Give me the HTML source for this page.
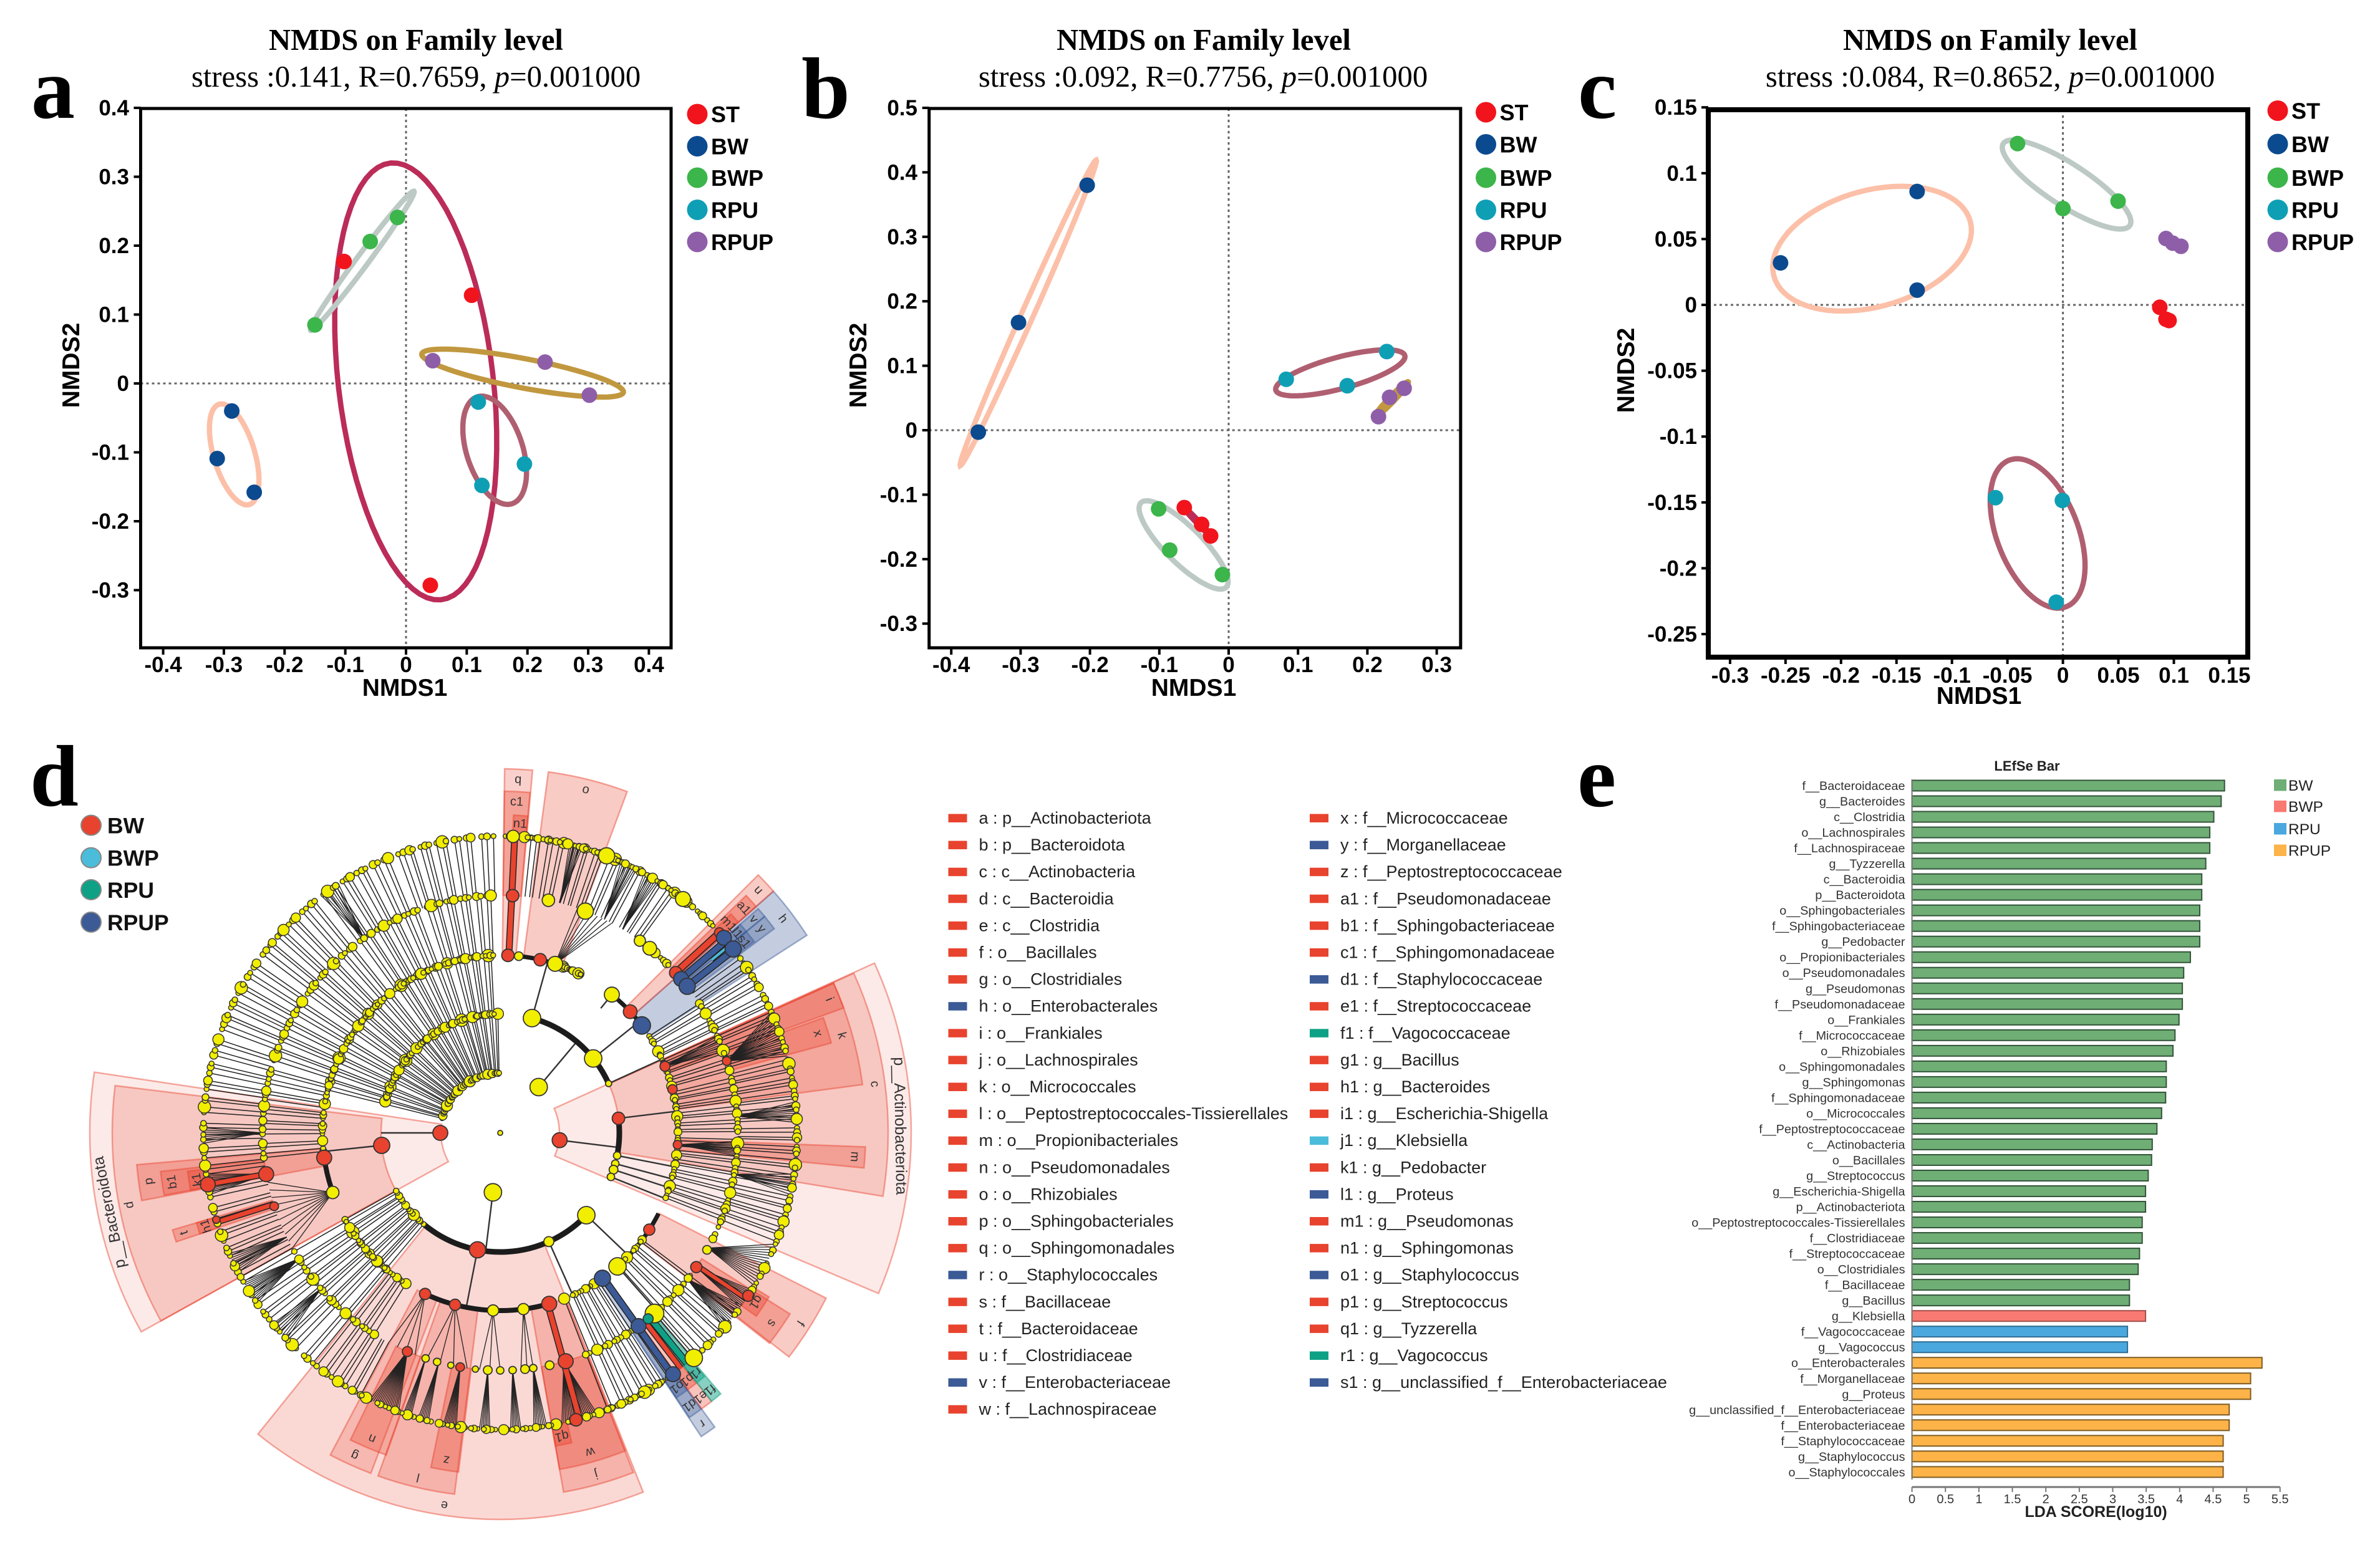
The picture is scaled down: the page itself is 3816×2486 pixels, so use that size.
<!DOCTYPE html>
<html lang="en">
<head>
<meta charset="utf-8">
<title>NMDS, cladogram and LEfSe figure</title>
<style>
html,body{margin:0;padding:0;background:#fff;}
svg{display:block;position:absolute;left:0;top:0;}
text{font-family:"Liberation Sans",sans-serif;}
.serif{font-family:"Liberation Serif",serif;}
</style>
</head>
<body>
<svg id="fig" xmlns="http://www.w3.org/2000/svg" width="3816" height="2486" viewBox="0 0 3816 2486">
<rect x="0" y="0" width="3816" height="2486" fill="#ffffff"/>
<text class="serif" x="50" y="189" font-size="140" font-weight="700">a</text>
<text class="serif" x="1285" y="189" font-size="140" font-weight="700">b</text>
<text class="serif" x="2530" y="189" font-size="140" font-weight="700">c</text>
<text class="serif" x="48" y="1292" font-size="140" font-weight="700">d</text>
<text class="serif" x="2529" y="1293" font-size="140" font-weight="700">e</text>

<text class="serif" x="667" y="80" font-size="48.7" font-weight="700" text-anchor="middle">NMDS on Family level</text>
<text class="serif" x="667" y="139" font-size="48.7" text-anchor="middle">stress :0.141, R=0.7659, <tspan font-style="italic">p</tspan>=0.001000</text>
<text class="serif" x="1930" y="80" font-size="48.7" font-weight="700" text-anchor="middle">NMDS on Family level</text>
<text class="serif" x="1929" y="139" font-size="48.7" text-anchor="middle">stress :0.092, R=0.7756, <tspan font-style="italic">p</tspan>=0.001000</text>
<text class="serif" x="3191" y="80" font-size="48.7" font-weight="700" text-anchor="middle">NMDS on Family level</text>
<text class="serif" x="3191" y="139" font-size="48.7" text-anchor="middle">stress :0.084, R=0.8652, <tspan font-style="italic">p</tspan>=0.001000</text>
<g id="panelA"></g>
<g id="panelB"></g>
<g id="panelC"></g>
<g id="panelD"></g>
<g id="panelDLegend"></g>
<g id="panelE"></g>
</svg>
<script>
/* ---------- NMDS data (groups: ST, BW, BWP, RPU, RPUP) ---------- */
const groupNames = ['ST','BW','BWP','RPU','RPUP'];
const pointColors = ['#f2141c','#0b4a8f','#3cb54a','#0f9fb5','#8f5ea8'];
const ellipseColors = ['#bb2c58','#fcc0a8','#bcc9c5','#b05f70','#c1983f'];

const aXTicks = [-0.4,-0.3,-0.2,-0.1,0,0.1,0.2,0.3,0.4];
const aYTicks = [-0.3,-0.2,-0.1,0,0.1,0.2,0.3,0.4];
const aXs = [[-0.102,0.108,0.040],[-0.287,-0.311,-0.250],[-0.150,-0.059,-0.014],[0.119,0.195,0.125],[0.044,0.229,0.302]];
const aYs = [[0.177,0.128,-0.293],[-0.040,-0.109,-0.158],[0.085,0.206,0.241],[-0.027,-0.117,-0.148],[0.033,0.031,-0.017]];
const aEllCx = [0.016,-0.283,-0.072,0.146,0.192];
const aEllCy = [0.003,-0.103,0.178,-0.097,0.015];
const aEllUx = [-0.041,-0.024,0.085,-0.027,0.166];
const aEllUy = [0.317,0.073,0.101,0.078,-0.028];
const aEllVx = [0.127,0.033,0.0085,0.045,-0.0057];
const aEllVy = [0.010,0.0067,-0.0044,0.0097,-0.0207];

const bXTicks = [-0.4,-0.3,-0.2,-0.1,0,0.1,0.2,0.3];
const bYTicks = [-0.3,-0.2,-0.1,0,0.1,0.2,0.3,0.4,0.5];
const bXs = [[-0.064,-0.039,-0.026],[-0.361,-0.303,-0.204],[-0.101,-0.085,-0.009],[0.083,0.171,0.228],[0.216,0.232,0.253]];
const bYs = [[-0.120,-0.146,-0.164],[-0.003,0.167,0.380],[-0.122,-0.186,-0.224],[0.079,0.069,0.122],[0.021,0.051,0.065]];
const bEllCx = [-0.045,-0.289,-0.065,0.161,0.235];
const bEllCy = [-0.142,0.182,-0.178,0.089,0.048];
const bEllUx = [-0.023,0.098,-0.061,0.093,0.024];
const bEllUy = [0.026,0.237,0.066,0.027,0.027];
const bEllVx = [0.0015,0.008,0.020,0.0068,0.003];
const bEllVy = [0.0015,-0.0033,0.0186,-0.0234,-0.003];

const cXTicks = [-0.3,-0.25,-0.2,-0.15,-0.1,-0.05,0,0.05,0.1,0.15];
const cYTicks = [-0.25,-0.2,-0.15,-0.1,-0.05,0,0.05,0.1,0.15];
const cXs = [[0.0873,0.0929,0.0957],[-0.2545,-0.1314,-0.1314],[-0.0409,0,0.0497],[-0.0608,-0.0005,-0.006],[0.0929,0.0989,0.1064]];
const cYs = [[-0.0018,-0.0109,-0.0119],[0.0319,0.0861,0.0112],[0.1225,0.0732,0.0788],[-0.1464,-0.1485,-0.2258],[0.0504,0.0469,0.0445]];
const cEllCx = [0.09,-0.172,0.0033,-0.0228,0.099];
const cEllCy = [-0.006,0.0427,0.0914,-0.1736,0.0475];
const cEllUx = [0,0.0873,0.0567,-0.0204,0];
const cEllUy = [0,0.0238,-0.0315,0.0567,0];
const cEllVx = [0,0.02,-0.0121,0.0376,0];
const cEllVy = [0,-0.041,-0.0123,0.0028,0];

/* ---------- LEfSe data ---------- */
const lefseLabels = ['f__Bacteroidaceae','g__Bacteroides','c__Clostridia','o__Lachnospirales','f__Lachnospiraceae','g__Tyzzerella','c__Bacteroidia','p__Bacteroidota','o__Sphingobacteriales','f__Sphingobacteriaceae','g__Pedobacter','o__Propionibacteriales','o__Pseudomonadales','g__Pseudomonas','f__Pseudomonadaceae','o__Frankiales','f__Micrococcaceae','o__Rhizobiales','o__Sphingomonadales','g__Sphingomonas','f__Sphingomonadaceae','o__Micrococcales','f__Peptostreptococcaceae','c__Actinobacteria','o__Bacillales','g__Streptococcus','g__Escherichia-Shigella','p__Actinobacteriota','o__Peptostreptococcales-Tissierellales','f__Clostridiaceae','f__Streptococcaceae','o__Clostridiales','f__Bacillaceae','g__Bacillus','g__Klebsiella','f__Vagococcaceae','g__Vagococcus','o__Enterobacterales','f__Morganellaceae','g__Proteus','g__unclassified_f__Enterobacteriaceae','f__Enterobacteriaceae','f__Staphylococcaceae','g__Staphylococcus','o__Staphylococcales'];
const lefseValues = [4.67,4.62,4.51,4.45,4.45,4.39,4.33,4.33,4.30,4.30,4.30,4.16,4.06,4.04,4.04,3.99,3.93,3.90,3.80,3.80,3.79,3.73,3.66,3.59,3.58,3.53,3.49,3.49,3.44,3.44,3.40,3.38,3.25,3.25,3.49,3.22,3.22,5.23,5.06,5.06,4.74,4.74,4.65,4.65,4.65];
const lefseGroups = [0,0,0,0,0,0,0,0,0,0,0,0,0,0,0,0,0,0,0,0,0,0,0,0,0,0,0,0,0,0,0,0,0,0,1,2,2,3,3,3,3,3,3,3,3];
const lefseGroupNames = ['BW','BWP','RPU','RPUP'];
const lefseColors = ['#6fae75','#f87a72','#4aa8df','#fdb347'];
const lefseStrokes = ['#33543a','#a5504b','#2f6d91','#7e5c24'];
const lefseTicks = [0,0.5,1,1.5,2,2.5,3,3.5,4,4.5,5,5.5];

/* ---------- Taxa legend ---------- */
const taxaCol1 = ['a : p__Actinobacteriota','b : p__Bacteroidota','c : c__Actinobacteria','d : c__Bacteroidia','e : c__Clostridia','f : o__Bacillales','g : o__Clostridiales','h : o__Enterobacterales','i : o__Frankiales','j : o__Lachnospirales','k : o__Micrococcales','l : o__Peptostreptococcales-Tissierellales','m : o__Propionibacteriales','n : o__Pseudomonadales','o : o__Rhizobiales','p : o__Sphingobacteriales','q : o__Sphingomonadales','r : o__Staphylococcales','s : f__Bacillaceae','t : f__Bacteroidaceae','u : f__Clostridiaceae','v : f__Enterobacteriaceae','w : f__Lachnospiraceae'];
const taxaCol1Colors = 'RRRRRRRBRRRRRRRRRBRRRBR';
const taxaCol2 = ['x : f__Micrococcaceae','y : f__Morganellaceae','z : f__Peptostreptococcaceae','a1 : f__Pseudomonadaceae','b1 : f__Sphingobacteriaceae','c1 : f__Sphingomonadaceae','d1 : f__Staphylococcaceae','e1 : f__Streptococcaceae','f1 : f__Vagococcaceae','g1 : g__Bacillus','h1 : g__Bacteroides','i1 : g__Escherichia-Shigella','j1 : g__Klebsiella','k1 : g__Pedobacter','l1 : g__Proteus','m1 : g__Pseudomonas','n1 : g__Sphingomonas','o1 : g__Staphylococcus','p1 : g__Streptococcus','q1 : g__Tyzzerella','r1 : g__Vagococcus','s1 : g__unclassified_f__Enterobacteriaceae'];
const taxaCol2Colors = 'RBRRRRBRTRRRCRBRRBRRTB';

/* ---------- Cladogram structure (angles in degrees clockwise from top) ---------- */
const cladoLegendNames = ['BW','BWP','RPU','RPUP'];
const cladoLegendColors = ['#e8432e','#4bbcd9','#0fa185','#3b5a96'];
/* label, start, end, inner, outer, colour, alpha */
const cladoWedges = [
['',65.6,113,95,659,'R',.11],['',241,278.5,95,658,'R',.11],
['c',65.7,99.4,191,622,'R',.2],['d',241,277,191,622,'R',.2],['e',158.3,218.8,191,620,'R',.2],
['k',65.8,82.4,285,586,'R',.25],['i',65.8,70,285,586,'R',.3],['m',92.2,95.5,285,586,'R',.3],
['p',259.3,265,285,585,'R',.3],['g',200.8,207.8,285,584,'R',.22],['l',187.2,199.6,285,584,'R',.25],
['j',158.6,170,285,585,'R',.25],['o',7.6,20.4,285,584,'R',.28],['q',.7,5.1,285,584,'R',.25],
['f',116.9,127.8,285,586,'R',.28],['h',48.5,57.2,285,585,'B',.3],['u',45,48.5,285,585,'R',.28],['r',143.9,146.5,285,584,'B',.3],
['x',70.4,74.8,381,550,'R',.32],['b1',259.5,263.5,381,548,'R',.3],['t',251.4,253.5,381,548,'R',.32],
['n',199.5,206,381,548,'R',.32],['z',187,191.7,381,548,'R',.32],['w',158.5,170,381,548,'R',.35],
['c1',.7,5,381,548,'R',.32],['s',122,128,381,548,'R',.32],['a1',46,48.5,381,548,'R',.4],
['v',49,50.7,381,548,'B',.3],['y',50.7,53.3,381,548,'B',.35],['e1',141.8,143.9,381,548,'R',.32],
['f1',139.8,141.8,381,548,'T',.5],['d1',144,146.4,381,548,'B',.3],
['k1',259.5,263,476,505,'R',.4],['h1',251.4,253.5,476,508,'R',.4],['q1',167,170,476,510,'R',.4],
['n1',2.4,5,476,510,'R',.4],['g1',121.4,125.6,476,505,'R',.4],['m1',46.5,48.4,476,510,'R',.4],
['l1',49,50.7,476,510,'B',.4],['s1',50.7,53,476,510,'B',.4],['p1',142,143.8,476,510,'R',.4],
['r1',140,141.8,476,510,'T',.5],['o1',144,146.4,476,510,'B',.4]
];
const cladoRings = [0,96,191,285,381,476];
const cladoGaps = [1.1,.7,1.6,.9,1.3,.8,2,1,1.2,.6,1.5,.9,.7,1.4];
const cladoSizes = [4.5,5.5,4,6.5,4.5,5,9,4,5.5,7.5,4.5,4,6,4.5,4,10,4.5,5.5,4,5,7];
/* start, end, inner ring, outer ring, spacing */
const cladoRuns = [
[284,359,1,2,1.4],[284,359,2,3,1.3],[264,359,3,4,1.15],[241,359,4,5,1.05],
[220,241,2,3,1.15],[212,241,3,4,1.1],[208,241,4,5,1.05],[145,208,5,5,.8],
[145,159,3,4,1],[145,159,4,5,.95],[127,139,3,4,1.2],[127,139,4,5,1],
[57,112,3,4,.95],[54,112,4,5,.85],[112,122,5,5,1],[6,37,4,5,1],
[20,27,3,3,.65],[5,37,5,5,.75],[38,46,5,5,.85],[38,46,4,4,.9],[1,6,5,5,.9],[112,119,4,4,1.5]
];
/* parent angle, parent ring, child start, child end, child ring, count */
const cladoFans = [
[119,4,112,121,5,16],[124.4,4,122,126,5,12],[128,4,125.5,131,5,14],[164.5,4,161,168,5,20],[172,4,171,173.5,5,8],
[177,4,176,178,5,7],[183,4,182,184,5,7],[189.7,4,188.5,191,5,9],[195,4,194,196,5,7],[198.3,4,197.5,199,5,6],
[203,4,200,206,5,18],[72.4,4,66,75,5,20],[93.8,3,92,95.5,4,10],[68,3,66,70,4,8],[26,4,24,27,5,8],[31,4,29,32,5,8],
[260,4,258,262,5,12],[270,4,268,271,5,8],[238,4,235,240,5,14],[229,4,226,230,5,8],[86,4,84,88,5,10],[100,4,98,102,5,8],
[14.6,4,13.5,16,5,8],[325,4,323,327,5,8],[244,4,242,246,5,10],
[18,3,19,28,4,8],[172.5,3,172,175,4,3],[182.3,3,180,185,4,3],[194.7,3,188,198,4,4],[205,3,201,208,4,4],[250.4,3,241,258,4,10]
];
/* ring, start, end, width */
const cladoArcs = [[2,15.5,65.5,9],[2,133.7,220,9],[2,83,101,9],[3,2.5,18,7],[3,38.9,52,7],[3,68,93.8,8],[3,117,139,7],[3,164,205,8],[3,250.4,262,8]];
/* angle, inner ring, outer ring */
const cladoSpokes = [[97,1,2],[270,1,2],[187,1,2],[40,1,2],[83,2,3],[264,2,3],[191,2,3],[15.5,2,3],[51.3,2,3],[133.7,2,3],[155.9,2,3],[65.5,2,3],[101,2,3],[105,2,3],[108,2,3],[111.7,2,3],[38.9,2.7,3],[138.7,3,4],[139.5,4,5]];
/* angle, inner ring, outer ring, width, colour */
const cladoBranches = [[2.8,3,5,8,'R'],[164.5,3,5,8,'R'],[47.6,4,5,9,'R'],[49.6,4,5,9,'B'],[51.9,4,5,9,'B'],[124,4,5,6,'R'],[144.6,3,5,9,'B'],[141,4,5,9,'T'],[142.5,4,5,7,'R'],[260,4,5,7,'R'],[252.5,4,5,7,'R'],[50.7,4.6,5,4,'C']];
/* angle, ring, radius, colour */
const cladoNodes = [
[0,0,4,'Y'],[97,1,12,'R'],[270,1,12,'R'],[187,1,14,'Y'],[40,1,14,'Y'],
[83,2,10,'R'],[264,2,13,'R'],[191,2,13,'R'],[15.5,2,14,'Y'],[51.3,2,14,'Y'],[65.5,2,5,'Y'],[133.7,2,14,'Y'],[155.9,2,8,'Y'],[101,2,6,'Y'],[105,2,6,'Y'],[108,2,7,'Y'],[111.7,2,6,'Y'],
[38.9,3,12,'Y'],[47,3,11,'R'],[52.8,3,14,'B'],[68,3,8,'R'],[75.8,3,7.5,'R'],[93.8,3,7,'R'],[123,3,9,'R'],[138.7,3,14,'Y'],[144.9,3,13,'B'],[164,3,12,'R'],[172.5,3,9,'Y'],[182.3,3,9,'Y'],[194.7,3,9,'R'],[205,3,9,'R'],[2.5,3,10,'R'],[13,3,10,'R'],[18,3,12,'Y'],[262,3,12,'R'],[250.4,3,10,'Y'],[6,3,7,'Y'],
[72.4,4,7,'R'],[124.4,4,9,'R'],[47.6,4,10,'R'],[49.6,4,12,'B'],[51.9,4,13,'B'],[139.5,4,15,'Y'],[144.4,4,12,'B'],[141.5,4,8,'T'],[164,4,12,'R'],[189.7,4,7,'R'],[203,4,8,'R'],[3,4,10,'R'],[260,4,12,'R'],[252,4,7,'R'],[11.7,4,10,'Y'],[21,4,13,'Y'],[36,4,9,'Y'],[39,4,11,'Y'],[119.5,4,7,'Y'],[168,4,7,'Y'],[172,4,6,'Y'],[174,4,7,'Y'],[177,4,6,'Y'],[180,4,6,'Y'],[183,4,7,'Y'],[186,4,5,'Y'],[192,4,5,'Y'],[195.4,4,6,'Y'],[198.3,4,6,'Y'],
[47.6,5,8,'R'],[48.9,5,12,'B'],[51.7,5,13,'B'],[123.3,5,9,'R'],[139.3,5,14,'Y'],[144.4,5,12,'B'],[165.2,5,10,'R'],[260,5,12,'R'],[253,5,6,'R'],[2.5,5,10,'Y'],[21,5,13,'Y'],[38,5,12,'Y']
];

/* ---------- helpers ---------- */
const NS = 'http://www.w3.org/2000/svg';
const paletteD = {R:'#e8432e',B:'#3b5a96',T:'#0fa185',C:'#4bbcd9',Y:'#f2ee00'};
function mk(tag, parent, name, attrs, txt){
  const el = document.createElementNS(NS, tag);
  
  
  for (const k in attrs) el.setAttribute(k, attrs[k]);
  if (txt !== undefined) el.textContent = txt;
  parent.appendChild(el);
  return el;
}
function fmt(v){ return String(v); }

/* ---------- NMDS panels ---------- */
function drawNmds(root, opt, xTicks, yTicks, xs, ys, cx, cy, ux, uy, vx, vy){
  const X = v => opt.x0 + opt.xu * v;
  const Y = v => opt.y0 - opt.yu * v;
  mk('line', root, 'y-zero-reference-line', {x1:opt.left,x2:opt.right,y1:Y(0),y2:Y(0),stroke:'#666','stroke-width':3,'stroke-dasharray':'4 5'});
  mk('line', root, 'x-zero-reference-line', {x1:X(0),x2:X(0),y1:opt.top,y2:opt.bottom,stroke:'#666','stroke-width':3,'stroke-dasharray':'4 5'});
  xTicks.forEach(t=>{
    mk('line', root, 'x-tick', {x1:X(t),x2:X(t),y1:opt.bottom,y2:opt.bottom+11,stroke:'#000','stroke-width':4});
    mk('text', root, 'x-tick-label', {x:X(t),y:opt.xLabelY,'font-size':opt.tickFont,'font-weight':700,'text-anchor':'middle'}, fmt(t));
  });
  yTicks.forEach(t=>{
    mk('line', root, 'y-tick', {x1:opt.left-11,x2:opt.left,y1:Y(t),y2:Y(t),stroke:'#000','stroke-width':4});
    mk('text', root, 'y-tick-label', {x:opt.yLabelX,y:Y(t)+12,'font-size':opt.tickFont,'font-weight':700,'text-anchor':'end'}, fmt(t));
  });
  groupNames.forEach((g,i)=>{
    if (ux[i]===0 && vx[i]===0) return;
    let d='';
    for(let k=0;k<=72;k++){
      const a=k/72*Math.PI*2;
      const dx=cx[i]+ux[i]*Math.cos(a)+vx[i]*Math.sin(a);
      const dy=cy[i]+uy[i]*Math.cos(a)+vy[i]*Math.sin(a);
      d+=(k?'L':'M')+X(dx).toFixed(1)+' '+Y(dy).toFixed(1);
    }
    mk('path', root, 'ellipse-'+g.toLowerCase(), {d:d+'Z',fill:'none',stroke:ellipseColors[i],'stroke-width':8.5});
  });
  groupNames.forEach((g,i)=>{
    xs[i].forEach((v,j)=>{
      mk('circle', root, 'point-'+g.toLowerCase(), {cx:X(v),cy:Y(ys[i][j]),r:12.5,fill:pointColors[i]});
    });
  });
  mk('rect', root, 'plot-frame', {x:opt.left,y:opt.top,width:opt.right-opt.left,height:opt.bottom-opt.top,fill:'none',stroke:'#000','stroke-width':opt.frame});
  mk('text', root, 'x-axis-title', {x:opt.xTitleX,y:opt.xTitleY,'font-size':39,'font-weight':700,'text-anchor':'middle'}, 'NMDS1');
  mk('text', root, 'y-axis-title', {x:0,y:0,'font-size':39,'font-weight':700,'text-anchor':'middle',transform:'translate('+opt.yTitleX+' '+opt.yTitleY+') rotate(-90)'}, 'NMDS2');
  groupNames.forEach((g,i)=>{
    mk('circle', root, 'legend-marker-'+g.toLowerCase(), {cx:opt.legX,cy:opt.legY[i],r:16.5,fill:pointColors[i]});
    mk('text', root, 'legend-label-'+g.toLowerCase(), {x:opt.legX+22,y:opt.legY[i]+13,'font-size':36,'font-weight':700}, g);
  });
}
drawNmds(document.getElementById('panelA'),
 {x0:651,xu:973.5,y0:615,yu:1105,left:225.5,right:1076,top:174,bottom:1039,frame:5,tickFont:35,xLabelY:1078,yLabelX:207,xTitleX:649,xTitleY:1116,yTitleX:127,yTitleY:586,legX:1118,legY:[183,234.5,285,336.5,388]},
 aXTicks,aYTicks,aXs,aYs,aEllCx,aEllCy,aEllUx,aEllUy,aEllVx,aEllVy);
drawNmds(document.getElementById('panelB'),
 {x0:1970,xu:1112,y0:690,yu:1034,left:1489.7,right:2341.9,top:174,bottom:1039,frame:5,tickFont:35,xLabelY:1078,yLabelX:1471,xTitleX:1914,xTitleY:1116,yTitleX:1389,yTitleY:586,legX:2382.5,legY:[180,231.5,285,336.5,388]},
 bXTicks,bYTicks,bXs,bYs,bEllCx,bEllCy,bEllUx,bEllUy,bEllVx,bEllVy);
drawNmds(document.getElementById('panelC'),
 {x0:3307.6,xu:1779,y0:489,yu:2112,left:2739,right:3604,top:176,bottom:1054,frame:8,tickFont:35,xLabelY:1095,yLabelX:2721,xTitleX:3173,xTitleY:1129,yTitleX:2620,yTitleY:594,legX:3652,legY:[177.5,231,285,336.5,388]},
 cXTicks,cYTicks,cXs,cYs,cEllCx,cEllCy,cEllUx,cEllUy,cEllVx,cEllVy);

/* ---------- Cladogram ---------- */
(function(){
  const root = document.getElementById('panelD');
  const CX = 802, CY = 1817;
  const pol = (t,r)=>{const a=t*Math.PI/180;return [+(CX+r*Math.sin(a)).toFixed(1),+(CY-r*Math.cos(a)).toFixed(1)];};
  const ringR = k => { const f=Math.floor(k); return cladoRings[f]+(k-f)*((cladoRings[f+1]||cladoRings[f])-cladoRings[f]); };
  const wedgeLayer = mk('g', root, 'clade-sectors', {});
  const lineLayer = mk('g', root, 'clade-branches', {});
  const arcLayer = mk('g', root, 'clade-thick-arcs', {});
  const nodeLayer = mk('g', root, 'clade-nodes', {});
  const labelLayer = mk('g', root, 'clade-sector-labels', {});

  cladoWedges.forEach(w=>{
    const [lab,t0,t1,r0,r1,c,al]=w;
    const large=(t1-t0)>180?1:0;
    const a=pol(t0,r0),b=pol(t0,r1),e=pol(t1,r1),f=pol(t1,r0);
    const d='M'+a+'L'+b+'A'+r1+' '+r1+' 0 '+large+' 1 '+e+'L'+f+'A'+r0+' '+r0+' 0 '+large+' 0 '+a+'Z';
    mk('path', wedgeLayer, 'clade-sector-'+(lab||'phylum'), {d:d,fill:paletteD[c],'fill-opacity':al,stroke:paletteD[c],'stroke-opacity':.45,'stroke-width':2.5});
    if(lab){
      const mid=(t0+t1)/2, p=pol(mid,r1-(r1-r0>60?17:14));
      mk('text', labelLayer, 'clade-label-'+lab, {x:p[0],y:p[1],'font-size':20,'text-anchor':'middle','dominant-baseline':'middle',fill:'#333',transform:'rotate('+mid+' '+p[0]+' '+p[1]+')'}, lab);
    }
  });
  const phy=[['p__Actinobacteriota',89,640],['p__Bacteroidota',258.5,638]];
  phy.forEach(l=>{
    const p=pol(l[1],l[2]);
    mk('text', labelLayer, 'phylum-label', {x:p[0],y:p[1],'font-size':25,'text-anchor':'middle','dominant-baseline':'middle',fill:'#333',transform:'rotate('+l[1]+' '+p[0]+' '+p[1]+')'}, l[0]);
  });

  let gi=0, si=0;
  const runNodes=[];
  cladoRuns.forEach(run=>{
    const [t0,t1,ri,ro,step]=run;
    let t=t0;
    while(t<=t1){
      if(ro>ri){
        const a=pol(t,cladoRings[ri]),b=pol(t,cladoRings[ro]);
        mk('line', lineLayer, 'clade-branch', {x1:a[0],y1:a[1],x2:b[0],y2:b[1],stroke:'#222','stroke-width':1.5});
      }
      runNodes.push([t,ro,cladoSizes[si%cladoSizes.length]*(ro===1||ri===ro?.9:1)]);
      if(ri===1||ri===2||ri===3){ runNodes.push([t,ri,cladoSizes[(si+7)%cladoSizes.length]*.9]); }
      si++;
      t+=cladoGaps[gi%cladoGaps.length]*step; gi++;
    }
  });
  cladoFans.forEach(f=>{
    const [pt,pr,c0,c1,cr,n]=f;
    const a=pol(pt,cladoRings[pr]);
    for(let i=0;i<n;i++){
      const b=pol(c0+(c1-c0)*i/(n-1),cladoRings[cr]);
      mk('line', lineLayer, 'clade-fan-branch', {x1:a[0],y1:a[1],x2:b[0],y2:b[1],stroke:'#222','stroke-width':1.3});
    }
  });
  cladoSpokes.forEach(s=>{
    const a=pol(s[0],ringR(s[1])),b=pol(s[0],ringR(s[2]));
    mk('line', lineLayer, 'clade-branch', {x1:a[0],y1:a[1],x2:b[0],y2:b[1],stroke:'#333','stroke-width':2.4});
  });
  cladoArcs.forEach(c=>{
    const [k,t0,t1,w]=c, r=cladoRings[k];
    const a=pol(t0,r),b=pol(t1,r);
    mk('path', arcLayer, 'clade-arc', {d:'M'+a+'A'+r+' '+r+' 0 0 1 '+b,fill:'none',stroke:'#1c1c1c','stroke-width':w});
  });
  cladoBranches.forEach(s=>{
    const a=pol(s[0],ringR(s[1])),b=pol(s[0],ringR(s[2]));
    mk('line', arcLayer, 'clade-highlight-branch', {x1:a[0],y1:a[1],x2:b[0],y2:b[1],stroke:'#222','stroke-width':s[3]+3});
    mk('line', arcLayer, 'clade-highlight-branch', {x1:a[0],y1:a[1],x2:b[0],y2:b[1],stroke:paletteD[s[4]],'stroke-width':s[3]});
  });
  runNodes.forEach(n=>{
    const p=pol(n[0],cladoRings[n[1]]);
    mk('circle', nodeLayer, 'clade-node', {cx:p[0],cy:p[1],r:n[2],fill:paletteD.Y,stroke:'#333','stroke-width':1.5});
  });
  cladoNodes.forEach(n=>{
    const p=pol(n[0],cladoRings[n[1]]);
    mk('circle', nodeLayer, 'clade-node-highlight', {cx:p[0],cy:p[1],r:n[2],fill:paletteD[n[3]],stroke:'#333','stroke-width':1.8});
  });
  const lgY=[1323.6,1375.7,1427,1479];
  cladoLegendNames.forEach((g,i)=>{
    mk('circle', root, 'clade-legend-marker-'+g.toLowerCase(), {cx:146,cy:lgY[i],r:16,fill:cladoLegendColors[i],stroke:'#888','stroke-width':2});
    mk('text', root, 'clade-legend-label-'+g.toLowerCase(), {x:172,y:lgY[i]+13,'font-size':35.5,'font-weight':700,fill:'#111'}, g);
  });
})();

/* ---------- Taxa legend ---------- */
(function(){
  const root=document.getElementById('panelDLegend');
  const rowY=i=>1312+43.1*i;
  const cols=[[taxaCol1,taxaCol1Colors,1520.5,1569.5],[taxaCol2,taxaCol2Colors,2100,2149]];
  cols.forEach(col=>{
    col[0].forEach((t,i)=>{
      mk('rect', root, 'taxa-legend-swatch', {x:col[2],y:rowY(i)-6.5,width:30,height:13.5,fill:paletteD[col[1][i]]});
      mk('text', root, 'taxa-legend-label', {x:col[3],y:rowY(i)+9,'font-size':27,fill:'#222'}, t);
    });
  });
})();

/* ---------- LEfSe bars ---------- */
(function(){
  const root=document.getElementById('panelE');
  const X=v=>3065.6+107.3*v;
  const Y=i=>1260+25.02*i;
  mk('text', root, 'lefse-title', {x:3250,y:1236,'font-size':22,'font-weight':700,'text-anchor':'middle',fill:'#222'}, 'LEfSe Bar');
  lefseLabels.forEach((l,i)=>{
    const g=lefseGroups[i];
    mk('rect', root, 'lefse-bar', {x:X(0),y:Y(i)-8.5,width:X(lefseValues[i])-X(0),height:17,fill:lefseColors[g],stroke:lefseStrokes[g],'stroke-width':2});
    mk('text', root, 'lefse-bar-label', {x:3054.5,y:Y(i)+7,'font-size':19.8,'text-anchor':'end',fill:'#333'}, l);
  });
  mk('line', root, 'lefse-category-axis', {x1:X(0),x2:X(0),y1:1250,y2:2373,stroke:'#777','stroke-width':2});
  mk('line', root, 'lefse-value-axis', {x1:X(0),x2:X(5.5),y1:2385,y2:2385,stroke:'#777','stroke-width':3});
  lefseTicks.forEach(t=>{
    mk('line', root, 'lefse-tick', {x1:X(t),x2:X(t),y1:2385,y2:2393,stroke:'#777','stroke-width':2});
    mk('text', root, 'lefse-tick-label', {x:X(t),y:2411,'font-size':20,'text-anchor':'middle',fill:'#333'}, fmt(t));
  });
  mk('text', root, 'lefse-x-axis-title', {x:3360.6,y:2433,'font-size':25,'font-weight':700,'text-anchor':'middle',fill:'#222'}, 'LDA SCORE(log10)');
  const legY=[1259,1293,1329,1363.5];
  lefseGroupNames.forEach((g,i)=>{
    mk('rect', root, 'lefse-legend-swatch-'+g.toLowerCase(), {x:3646,y:legY[i]-9,width:20,height:18.5,fill:lefseColors[i]});
    mk('text', root, 'lefse-legend-label-'+g.toLowerCase(), {x:3669,y:legY[i]+9,'font-size':24.5,fill:'#222'}, g);
  });
})();
</script>
</body>
</html>
